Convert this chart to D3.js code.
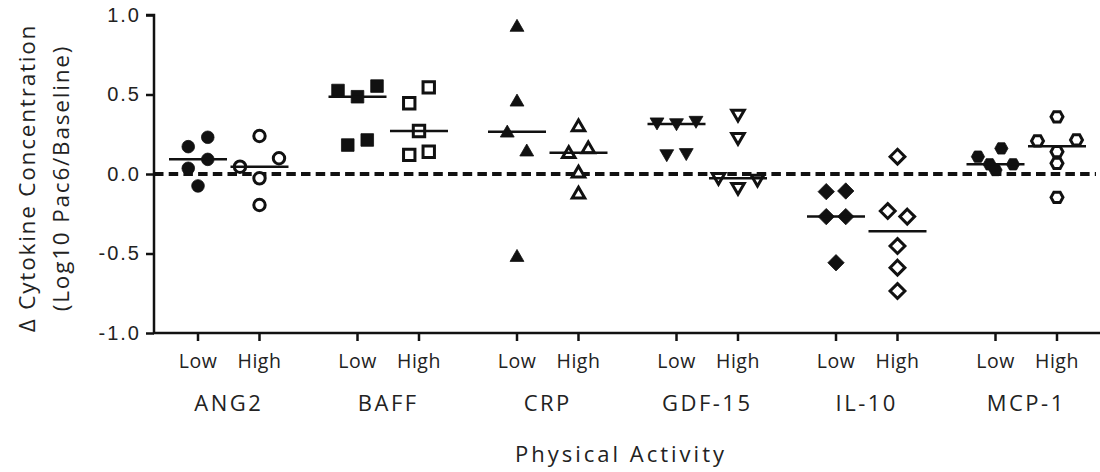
<!DOCTYPE html>
<html>
<head>
<meta charset="utf-8">
<script src="https://cdn.jsdelivr.net/npm/d3@7"></script>
<style>
  body { margin: 0; background: #fff; }
  svg { display: block; font-family: "Open Sans", sans-serif; }
  .axis path, .axis line { stroke: #111; stroke-width: 2.5px; }
  .axis text { fill: #222; }
</style>
</head>
<body>
<script>
// groupes et niveaux d'activité
const cytokines = ["ANG2", "BAFF", "CRP", "GDF-15", "IL-10", "MCP-1"];
const activity = ["Low", "High"];
const yTicks = [-1.0, -0.5, 0.0, 0.5, 1.0];

// valeurs (delta log10)
const ang2Low   = [0.172, 0.231, 0.036, 0.092, -0.075];
const ang2High  = [0.239, -0.027, 0.046, 0.099, -0.195];
const baffLow   = [0.486, 0.525, 0.553, 0.182, 0.214];
const baffHigh  = [0.445, 0.545, 0.27, 0.12, 0.14];
const crpLow    = [0.931, 0.461, 0.266, 0.147, -0.516];
const crpHigh   = [0.302, 0.134, 0.164, 0.011, -0.121];
const gdfLow    = [0.314, 0.319, 0.329, 0.119, 0.126];
const gdfHigh   = [0.371, 0.224, -0.09, -0.027, -0.038];
const il10Low   = [-0.111, -0.107, -0.268, -0.268, -0.558];
const il10High  = [0.109, -0.233, -0.268, -0.453, -0.589, -0.736];
const mcpLow    = [0.061, 0.161, 0.109, 0.061, 0.025];
const mcpHigh   = [0.36, 0.14, 0.208, 0.214, 0.067, -0.147];

const series = [
  [ang2Low, ang2High], [baffLow, baffHigh], [crpLow, crpHigh],
  [gdfLow, gdfHigh], [il10Low, il10High], [mcpLow, mcpHigh]
];
const shapes = ["circle", "square", "triangleUp", "triangleDown", "diamond", "hexagon"];

const W = 1100, H = 472;
const svg = d3.select("body").append("svg")
  .attr("width", W).attr("height", H);

const axisX = 154, axisY = 333;
const y = d3.scaleLinear().domain([-1, 1]).range([333, 15]);
const xGroup = d3.scaleBand().domain(cytokines).range([149, 1106]);
const xSub = d3.scalePoint().domain(activity).range([0, xGroup.bandwidth()]).padding(0.797);
const xPos = (g, a) => xGroup(g) + xSub(a);

// symboles
function shapePath(type, r) {
  const p = d3.path();
  if (type === "circle") { p.arc(0, 0, r, 0, 2 * Math.PI); }
  else if (type === "square") { p.rect(-r, -r, 2 * r, 2 * r); }
  else if (type === "triangleUp") {
    p.moveTo(0, -r * 1.05); p.lineTo(r * 1.1, r * 0.85); p.lineTo(-r * 1.1, r * 0.85); p.closePath();
  } else if (type === "triangleDown") {
    p.moveTo(0, r * 1.05); p.lineTo(r * 1.1, -r * 0.85); p.lineTo(-r * 1.1, -r * 0.85); p.closePath();
  } else if (type === "diamond") {
    const d = r * 1.3;
    p.moveTo(0, -d); p.lineTo(d, 0); p.lineTo(0, d); p.lineTo(-d, 0); p.closePath();
  } else {
    const h = r * 0.9;
    p.moveTo(-r * 1.05, 0); p.lineTo(-r * 0.55, -h); p.lineTo(r * 0.55, -h);
    p.lineTo(r * 1.05, 0); p.lineTo(r * 0.55, h); p.lineTo(-r * 0.55, h); p.closePath();
  }
  return p.toString();
}

// disposition en rangées façon Prism
const rowSpan = 20.3, step = 19.5;
function spread(vals) {
  const order = vals.map((v, i) => i).sort((a, b) => vals[b] - vals[a] || a - b);
  const rows = [];
  order.forEach(i => {
    const cur = rows[rows.length - 1];
    if (cur && Math.abs(y(vals[cur[0]]) - y(vals[i])) <= rowSpan) cur.push(i);
    else rows.push([i]);
  });
  const off = new Array(vals.length);
  rows.forEach(r => {
    r.sort((a, b) => a - b);
    const n = r.length;
    // rangée large : on resserre les symboles
    const s = n > 3 ? step * 0.6 : step;
    r.forEach((idx, k) => {
      let slot;
      if (n % 2) slot = k === 0 ? 0 : (k % 2 ? -Math.ceil(k / 2) : Math.ceil(k / 2));
      else slot = (k % 2 ? 1 : -1) * (Math.floor(k / 2) + 0.5);
      off[idx] = slot * s;
    });
  });
  return off;
}

// ligne zéro pointillée
svg.append("line")
  .attr("x1", axisX).attr("x2", 1096)
  .attr("y1", y(0)).attr("y2", y(0))
  .attr("stroke", "#111").attr("stroke-width", 4)
  .attr("stroke-dasharray", "9.5,5.2");

// points et médianes
cytokines.forEach((g, gi) => {
  activity.forEach((a, ai) => {
    const vals = series[gi][ai];
    const off = spread(vals);
    const cx = xPos(g, a);
    const filled = a === "Low";
    svg.append("g").selectAll("path")
      .data(vals)
      .enter()
      .append("path")
      .attr("transform", (d, i) => `translate(${cx + off[i]},${y(d)})`)
      .attr("d", shapePath(shapes[gi], filled ? 6.3 : 5.7))
      .attr("fill", filled ? "#111" : "#fff")
      .attr("stroke", "#111")
      .attr("stroke-width", filled ? 0.8 : 3)
      .attr("stroke-linejoin", "miter");
    const med = d3.median(vals);
    svg.append("line")
      .attr("x1", cx - 29).attr("x2", cx + 29)
      .attr("y1", y(med)).attr("y2", y(med))
      .attr("stroke", "#111").attr("stroke-width", 2.5);
  });
});

// axe Y
const yAxis = svg.append("g")
  .attr("class", "axis")
  .attr("transform", `translate(${axisX},0)`)
  .call(d3.axisLeft(y).tickValues(yTicks).tickSize(8).tickPadding(5)
    .tickFormat(d => d.toFixed(1)));
yAxis.select(".domain").attr("d", `M-8,${y(1)}H0V${y(-1)}`);
yAxis.selectAll("text")
  .style("font-size", "20px").style("letter-spacing", "2px");

// axe X
const xAxis = svg.append("g").attr("class", "axis");
xAxis.append("line")
  .attr("x1", axisX - 1).attr("x2", W)
  .attr("y1", axisY).attr("y2", axisY);
const ticks = cytokines.flatMap(g => activity.map(a => ({ g, a })));
xAxis.selectAll(".tk")
  .data(ticks)
  .enter()
  .append("line")
  .attr("class", "tk")
  .attr("x1", d => xPos(d.g, d.a)).attr("x2", d => xPos(d.g, d.a))
  .attr("y1", axisY).attr("y2", axisY + 8);
xAxis.selectAll(".lvl")
  .data(ticks)
  .enter()
  .append("text")
  .attr("class", "lvl")
  .attr("x", d => xPos(d.g, d.a))
  .attr("y", 368)
  .attr("text-anchor", "middle")
  .style("font-size", "19.5px").style("letter-spacing", "0.5px")
  .text(d => d.a);
xAxis.selectAll(".grp")
  .data(cytokines)
  .enter()
  .append("text")
  .attr("class", "grp")
  .attr("x", d => xGroup(d) + xGroup.bandwidth() / 2)
  .attr("y", 411)
  .attr("text-anchor", "middle")
  .style("font-size", "22px").style("letter-spacing", "2.5px")
  .text(d => d);

// titres
svg.append("text")
  .attr("x", 621).attr("y", 462)
  .attr("text-anchor", "middle")
  .attr("fill", "#222")
  .style("font-size", "22px").style("letter-spacing", "3px")
  .text("Physical Activity");

const yTitle = svg.append("text")
  .attr("transform", "translate(0,178) rotate(-90)")
  .attr("text-anchor", "middle")
  .attr("fill", "#222")
  .style("font-size", "22.5px").style("letter-spacing", "1.8px");
yTitle.append("tspan").attr("x", 0).attr("y", 35).text("\u0394 Cytokine Concentration");
yTitle.append("tspan").attr("x", 0).attr("y", 69).text("(Log10 Pac6/Baseline)");
</script>
</body>
</html>
